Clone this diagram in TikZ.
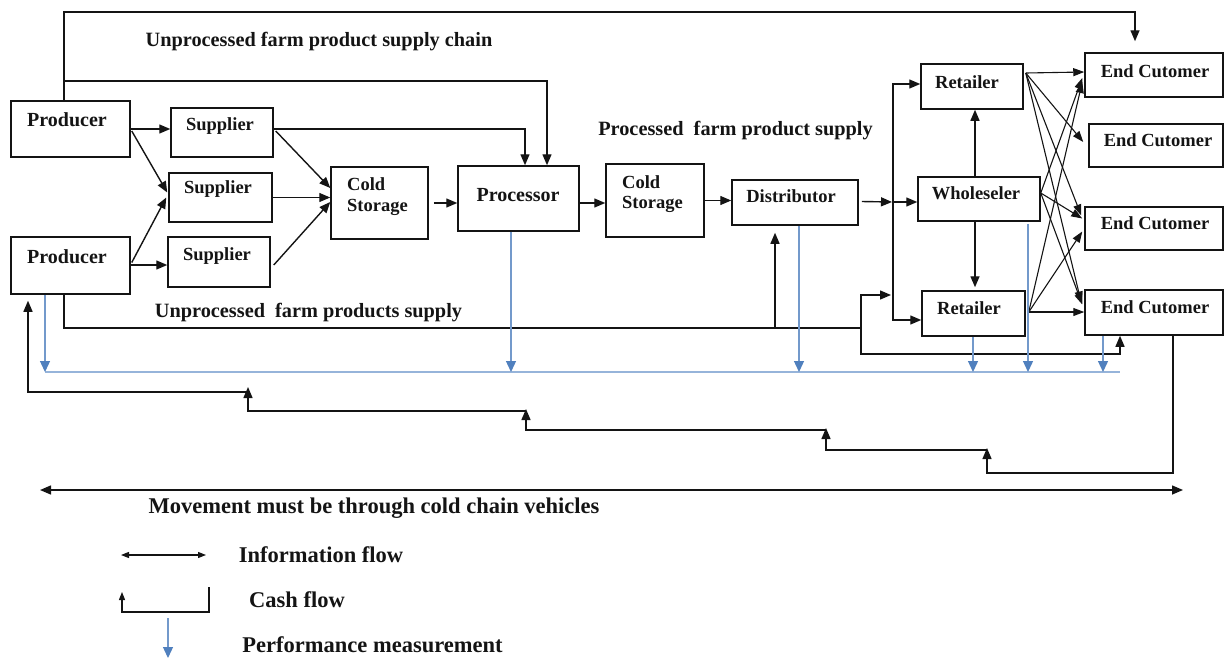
\documentclass[tikz,border=0pt]{standalone}
\usepackage{fontspec}
\setmainfont{Liberation Serif}
\usetikzlibrary{arrows.meta,calc}
\definecolor{ink}{RGB}{20,20,20}
\definecolor{pmblue}{RGB}{80,128,190}
\definecolor{pmline}{RGB}{150,180,218}
\tikzset{
  box/.style={draw=ink,line width=1.5pt,inner sep=0pt,fill=none},
  lbl/.style={inner sep=0pt,text=ink,font=\bfseries\fontsize{18.5}{20}\selectfont},
  lblb/.style={lbl,font=\bfseries\fontsize{20}{22}\selectfont},
  head/.style={inner sep=0pt,text=ink,font=\bfseries\fontsize{20.3}{22}\selectfont},
  leg/.style={inner sep=0pt,text=ink,font=\bfseries\fontsize{22.5}{24}\selectfont},
  arr/.style={draw=ink,line width=1.4pt,-{Triangle[length=11pt,width=9pt]}},
  thinarr/.style={draw=ink,line width=1.1pt,-{Triangle[length=11pt,width=8pt]}},
  plain/.style={draw=ink,line width=1.4pt},
  darr/.style={draw=ink,line width=1.4pt,{Triangle[length=11pt,width=9pt]}-{Triangle[length=11pt,width=9pt]}},
  sarr/.style={draw=ink,line width=1.2pt,{Triangle[length=8pt,width=6pt]}-{Triangle[length=8pt,width=6pt]}},
  barr/.style={draw=pmblue!80,line width=1.3pt,-{Triangle[length=11pt,width=10pt,color=pmblue]}},
  bline/.style={draw=pmline,line width=1.8pt},
}
\newcommand{\mkbox}[5]{\node[box,minimum width={#4-#2},minimum height={#5-#3}] (#1) at ({(#2+#4)/2},{(#3+#5)/2}) {};}
\begin{document}
\begin{tikzpicture}[x=1pt,y=-1pt]
\useasboundingbox (0,0) rectangle (1225,662);
% boxes
\mkbox{P1}{11}{101}{130}{157}
\mkbox{P2}{11}{237}{130}{294}
\mkbox{S1}{171}{108}{273}{157}
\mkbox{S2}{169}{173}{272}{222}
\mkbox{S3}{168}{237}{270}{287}
\mkbox{CSa}{331}{167}{428}{239}
\mkbox{PR}{458}{166}{579}{231}
\mkbox{CSb}{606}{164}{704}{237}
\mkbox{D}{732}{180}{858}{225}
\mkbox{R1}{921}{64}{1023}{109}
\mkbox{W}{918}{177}{1040}{221}
\mkbox{R2}{922}{291}{1025}{336}
\mkbox{E1}{1085}{53}{1223}{97}
\mkbox{E2}{1089}{124}{1223}{167}
\mkbox{E3}{1085}{207}{1223}{250}
\mkbox{E4}{1085}{290}{1223}{335}
% labels
\node[lblb] (tP1) at (67,120) {Producer};
\node[lblb] (tP2) at (67,257) {Producer};
\node[lbl] (tS1) at (220,126) {Supplier};
\node[lbl] (tS2) at (218,189) {Supplier};
\node[lbl] (tS3) at (217,256) {Supplier};
\node[lbl,anchor=west] (tCa1) at (347,184) {Cold};
\node[lbl,anchor=west] (tCa2) at (347,207) {Storage};
\node[lblb] (tPR) at (518,195) {Processor};
\node[lbl,anchor=west] (tCb1) at (622,182) {Cold};
\node[lbl,anchor=west] (tCb2) at (622,204) {Storage};
\node[lbl] (tD) at (791,196) {Distributor};
\node[lbl] (tR1) at (967,82) {Retailer};
\node[lbl] (tW) at (976,193) {Wholeseler};
\node[lbl] (tR2) at (969,308) {Retailer};
\node[lbl] (tE1) at (1155,71) {End Cutomer};
\node[lbl] (tE2) at (1158,140) {End Cutomer};
\node[lbl] (tE3) at (1155,223) {End Cutomer};
\node[lbl] (tE4) at (1155,307) {End Cutomer};
\node[head] (h1) at (319,42) {Unprocessed farm product supply chain};
\node[head] (h2) at (735.5,131) {Processed\ \ farm product supply};
\node[head] (h3) at (308.5,313) {Unprocessed\ \ farm products supply};
\node[leg] (h4) at (374,508) {Movement must be through cold chain vehicles};
\node[leg] (lg1) at (321,555) {Information flow};
\node[leg] (lg2) at (297,600) {Cash flow};
\node[leg] (lg3) at (372.5,645) {Performance measurement};
% helper coordinates
\path ([xshift=-6.5pt]P1.north) coordinate (p1n);
\path ([xshift=-6.5pt]P2.south) coordinate (p2s);
\coordinate (topY) at (0,12);
\coordinate (midY) at (0,81);
\path ([xshift=-19pt,yshift=11pt]E1.north) coordinate (e1n);
\path ([xshift=28.5pt]PR.north) coordinate (prn1);
\path ([xshift=6.5pt]PR.north) coordinate (prn2);
% top lines
\draw[arr] (p1n) -- (p1n |- topY) -| (e1n);
\draw[arr] (p1n |- midY) -| (prn1);
\draw[arr] ([yshift=3.5pt]S1.east) -| (prn2);
% producer -> supplier
\draw[arr] (P1.east) -- (P1.east -| S1.west);
\draw[arr] ([xshift=1pt,yshift=-2pt]P1.east) -- ([xshift=-1pt,yshift=5pt]S2.west);
\draw[arr] ([xshift=1pt,yshift=3pt]P2.east) -- ([xshift=-2pt]S2.west);
\draw[arr] ([yshift=0.5pt]P2.east) -- ([yshift=0.5pt]P2.east -| S3.west);
% supplier -> cold storage
\draw[arr] ([xshift=2pt,yshift=1.5pt]S1.east) -- ([yshift=15pt]CSa.west);
\draw[arr] (S2.east) -- (S2.east -| CSa.west);
\draw[arr] ([xshift=3pt,yshift=-3pt]S3.east) -- ([yshift=1pt]CSa.west);
% chain
\draw[arr] ([xshift=5pt]CSa.east) -- (CSa.east -| PR.west);
\draw[arr] ([yshift=-4.5pt]PR.east) -- ([yshift=-4.5pt]PR.east -| CSb.west);
\draw[arr] (CSb.east) -- (CSb.east -| D.west);
% junction
\coordinate (jr) at (893,202);
\draw[arr] ([xshift=3pt,yshift=0.5pt]D.east |- jr) -- ([xshift=-1pt]jr);
\draw[arr] (jr) -- (jr -| W.west);
\draw[arr] (jr) |- ([yshift=2.5pt]R1.west);
\draw[arr] (jr) |- ([yshift=-6.5pt]R2.west);
% wholesaler -> retailers
\path ([xshift=-4pt]W.north) coordinate (wn);
\path ([xshift=-4pt]W.south) coordinate (ws);
\draw[arr] (wn) -- (wn |- R1.south);
\draw[arr] (ws) -- ([yshift=3pt]ws |- R2.north);
% bottom unprocessed line
\coordinate (b1) at (861,328);
\coordinate (b2) at (861,295);
\coordinate (b3) at (861,354);
\path ([xshift=-20pt]D.south) coordinate (dx);
\draw[plain] (p2s) |- (b1);
\draw[arr] (b1) -- (b2) -- ([xshift=-2pt]b2 -| jr);
\draw[arr] (dx |- b1) -- ([yshift=-7pt]dx);
\path ([xshift=-34pt]E4.south) coordinate (e4a);
\draw[arr] (b1) -- (b3) -| (e4a);
% crossing arrows to end customers
\path ([xshift=2pt,yshift=13.5pt]R1.east) coordinate (r1o);
\path ([yshift=6pt]W.east) coordinate (wo);
\path ([xshift=3pt,yshift=1.5pt]R2.east) coordinate (r2o);
\draw[thinarr] (r1o) -- ([yshift=3pt]E1.west);
\draw[thinarr] (r1o) -- ([xshift=-5pt,yshift=3.5pt]E2.west);
\draw[thinarr] (r1o) -- ([xshift=-3pt,yshift=13pt]E3.west);
\draw[thinarr] (r1o) -- ([xshift=-3pt,yshift=10pt]E4.west);
\draw[thinarr] (wo) -- ([xshift=-2pt,yshift=-3pt]E1.west);
\draw[thinarr] (wo) -- ([xshift=-2pt,yshift=10pt]E3.west);
\draw[thinarr] (wo) -- ([xshift=-2pt,yshift=8pt]E4.west);
\draw[thinarr] (r2o) -- ([xshift=-2pt,yshift=-7pt]E1.west);
\draw[thinarr] (r2o) -- ([xshift=-2pt,yshift=-3pt]E3.west);
\draw[thinarr] (r2o) -- (r2o -| E4.west);
% performance measurement
\coordinate (mL) at (45,372);
\coordinate (mR) at (1120,372);
\draw[bline] (mL) -- (mR);
\path ([xshift=-25.5pt]P2.south) coordinate (m1);
\path ([xshift=-7.5pt]PR.south) coordinate (m2);
\path ([xshift=4pt]D.south) coordinate (m3);
\path ([xshift=-0.5pt]R2.south) coordinate (m4);
\path ([xshift=49pt,yshift=-2pt]W.south) coordinate (m5);
\path ([xshift=-51pt]E4.south) coordinate (m6);
\foreach \m in {m1,m2,m3,m4,m5,m6} \draw[barr] (\m) -- (\m |- mL);
% cash flow
\path ([xshift=19pt]E4.south) coordinate (c0);
\coordinate (k1) at (987,473);
\coordinate (k2) at (826,450);
\coordinate (k3) at (526,430);
\coordinate (k4) at (248,411);
\coordinate (k5) at (28,392);
\path ([xshift=-42.5pt,yshift=-6pt]P2.south) coordinate (p2c);
\draw[arr] (c0) |- (k1) -- ([yshift=2pt]k1 |- k2);
\draw[arr] (k1 |- k2) -- (k2) -- ([yshift=2pt]k2 |- k3);
\draw[arr] (k2 |- k3) -- (k3) -- ([yshift=2pt]k3 |- k4);
\draw[arr] (k3 |- k4) -- (k4) -- ([yshift=5pt]k4 |- k5);
\draw[arr] (k4 |- k5) -- (k5) -- (k5 |- p2c);
% movement
\coordinate (mv1) at (40,490);
\coordinate (mv2) at (1183,490);
\draw[darr] (mv1) -- (mv2);
% legend
\coordinate (li1) at (121,555);
\coordinate (li2) at (206,555);
\draw[sarr] (li1) -- (li2);
\coordinate (lc1) at (209,587);
\coordinate (lc2) at (122,612);
\coordinate (lc3) at (122,592);
\draw[plain,line width=1.2pt,-{Triangle[length=8pt,width=6pt]}] (lc1) |- (lc2) -- (lc3);
\coordinate (lp1) at (168,618);
\coordinate (lp2) at (168,658);
\draw[barr] (lp1) -- (lp2);
\end{tikzpicture}
\end{document}
